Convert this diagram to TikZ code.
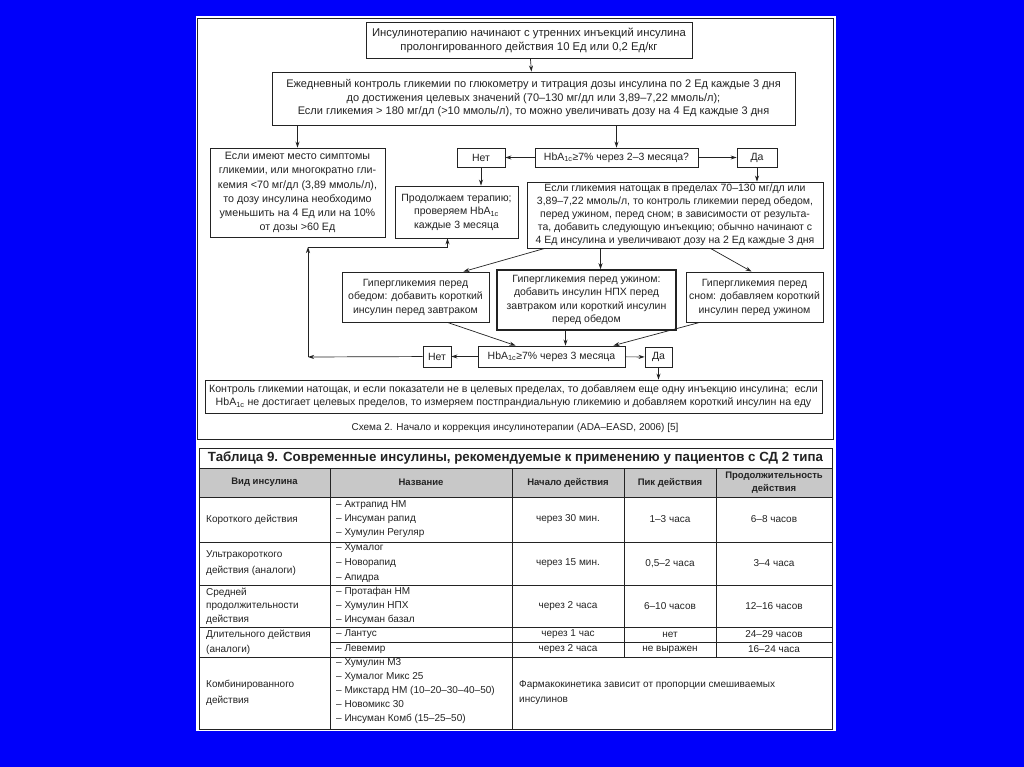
\documentclass[tikz,border=0pt]{standalone}
\usepackage{fontspec}
\setmainfont{Liberation Sans}
\usetikzlibrary{arrows.meta, positioning, calc}
\definecolor{slideblue}{RGB}{0,0,250}
\definecolor{inkgray}{RGB}{35,35,35}
\definecolor{headgray}{RGB}{200,200,200}
\newcommand{\hbsub}{HbA\textsubscript{1c}}

\begin{document}
\begin{tikzpicture}[x=1pt, y=-1pt,
  flowbox/.style={draw=inkgray, line width=0.9pt, align=center, inner sep=2pt, text=inkgray, font=\fontsize{10.5}{13.5}\selectfont},
  tagbox/.style={flowbox, minimum height=19pt},
  arrow/.style={-{Stealth[length=6pt,width=4pt]}, line width=0.7pt, draw=inkgray},
  cell/.style={inner sep=0pt, align=left, text=inkgray, font=\fontsize{10}{14}\selectfont},
  headcell/.style={inner sep=0pt, align=center, text=inkgray, font=\fontsize{9.5}{13}\selectfont\bfseries},
  rule/.style={draw=inkgray, line width=0.8pt},
]
  % slide background and sheet
  \fill[slideblue] (0,0) rectangle (1024,767);
  \fill[white] (196,16) rectangle (836,731);
  \useasboundingbox (0,0) rectangle (1024,767);
  \draw[rule] (197,18) rectangle (833,439);

  % scheme
  \node[flowbox, minimum width=326pt, minimum height=36pt, font=\fontsize{11.3}{14}\selectfont] (start) at (529,40)
    {Инсулинотерапию начинают с утренних инъекций инсулина\\пролонгированного действия 10 Ед или 0,2 Ед/кг};
  \node[flowbox, minimum width=523pt, minimum height=53pt, font=\fontsize{11}{13.5}\selectfont] (titr) at (533.5,98.5)
    {Ежедневный контроль гликемии по глюкометру и титрация дозы инсулина по 2 Ед каждые 3 дня\\
     до достижения целевых значений (70--130 мг/дл или 3,89--7,22 ммоль/л);\\
     Если гликемия > 180 мг/дл (>10 ммоль/л), то можно увеличивать дозу на 4 Ед каждые 3 дня};
  \node[flowbox, minimum width=175pt, minimum height=89pt, font=\fontsize{10.7}{14.2}\selectfont] (hypo) at (297.5,192.5)
    {Если имеют место симптомы\\гликемии, или многократно гли-\\кемия <70 мг/дл (3,89 ммоль/л),\\
     то дозу инсулина необходимо\\уменьшить на 4 Ед или на 10\%\\от дозы >60 Ед};
  \node[tagbox, minimum width=48pt] (no1) at (481,157.5) {Нет};
  \node[tagbox, minimum width=163pt] (hba1) at (616.5,157.5) {\hbsub≥7\% через 2--3 месяца?};
  \node[tagbox, minimum width=40pt] (yes1) at (757,157.5) {Да};
  \node[flowbox, minimum width=123pt, minimum height=52pt] (cont) at (456.5,212)
    {Продолжаем терапию;\\проверяем \hbsub\\каждые 3 месяца};
  \node[flowbox, minimum width=296pt, minimum height=66pt, font=\fontsize{10.5}{13}\selectfont] (fast) at (675,215)
    {Если гликемия натощак в пределах 70--130 мг/дл или\\
     3,89--7,22 ммоль/л, то контроль гликемии перед обедом,\\
     перед ужином, перед сном; в зависимости от результа-\\
     та, добавить следующую инъекцию; обычно начинают с\\
     4 Ед инсулина и увеличивают дозу на 2 Ед каждые 3 дня};
  \node[flowbox, minimum width=147pt, minimum height=50pt] (lunch) at (415.5,297)
    {Гипергликемия перед\\обедом: добавить короткий\\инсулин перед завтраком};
  \node[flowbox, line width=1.5pt, minimum width=179pt, minimum height=60pt] (dinner) at (586.5,300)
    {Гипергликемия перед ужином:\\добавить инсулин НПХ перед\\завтраком или короткий инсулин\\перед обедом};
  \node[flowbox, minimum width=137pt, minimum height=50pt] (night) at (754.5,297)
    {Гипергликемия перед\\сном: добавляем короткий\\инсулин перед ужином};
  \node[tagbox, minimum width=147pt, minimum height=21pt] (hba2) at (551.5,356.5) {\hbsub≥7\% через 3 месяца};
  \node[tagbox, minimum width=28pt, minimum height=21pt] (no2) at (437,356.5) {Нет};
  \node[tagbox, minimum width=27pt, minimum height=20pt] (yes2) at (658.5,357) {Да};
  \node[flowbox, minimum width=617pt, minimum height=33pt, font=\fontsize{10.6}{13}\selectfont] (final) at (513.5,396.5)
    {Контроль гликемии натощак, и если показатели не в целевых пределах, то добавляем еще одну инъекцию инсулина;\ \ если\\
     \hbsub\ не достигает целевых пределов, то измеряем постпрандиальную гликемию и добавляем короткий инсулин на еду};
  \node[text=inkgray, font=\fontsize{10}{12}\selectfont] (caption) at (515,428)
    {Схема 2. Начало и коррекция инсулинотерапии (ADA--EASD, 2006) [5]};

  \coordinate (midin) at ($(dinner.north)+(14,0)$);
  \coordinate (midout) at ($(hba2.north)+(14,0)$);
  \coordinate (turn) at (308,357);
  \coordinate (back) at (308,247);

  \draw[arrow] (start) -- (titr);
  \draw[arrow] (titr.south -| hypo.north) -- (hypo);
  \draw[arrow] (titr.south -| hba1.north) -- (hba1);
  \draw[arrow] (hba1) -- (no1);
  \draw[arrow] (hba1) -- (yes1);
  \draw[arrow] (no1) -- (cont.north -| no1);
  \draw[arrow] (yes1) -- (fast.north -| yes1);
  \draw[arrow] ($(fast.south west)+(18,0)$) -- ($(lunch.north east)+(-26,0)$);
  \draw[arrow] (midin |- fast.south) -- (midin);
  \draw[arrow] ($(fast.south west)+(184,0)$) -- ($(night.north)+(-3,0)$);
  \draw[arrow] ($(lunch.south)+(32,0)$) -- ($(hba2.north west)+(38,0)$);
  \draw[arrow] (midout |- dinner.south) -- (midout);
  \draw[arrow] ($(night.south west)+(14,0)$) -- ($(hba2.north east)+(-12,0)$);
  \draw[arrow] (hba2) -- (no2);
  \draw[arrow] (hba2) -- (yes2);
  \draw[arrow] (no2) -- (turn);
  \draw[arrow] (turn) -- (back);
  \draw[arrow] (back) -| ($(cont.south)+(-9,0)$);
  \draw[arrow] (yes2) -- (final.north -| yes2);

  % table
  \fill[headgray] (199,468) rectangle (832,497);
  \draw[rule] (199,448) rectangle (832,729);
  \foreach \ry in {468,497,542,585,627,657}
    \draw[rule] (199,\ry) -- (832,\ry);
  \draw[rule] (330,642) -- (832,642);
  \foreach \cx in {330,512}
    \draw[rule] (\cx,468) -- (\cx,729);
  \foreach \cx in {624,716}
    \draw[rule] (\cx,468) -- (\cx,657);

  \node[text=inkgray, font=\fontsize{13.3}{15}\selectfont\bfseries] (ttitle) at (515.5,458)
    {Таблица 9. Современные инсулины, рекомендуемые к применению у пациентов с СД 2 типа};

  \node[headcell] (hkind) at (264.5,482.5) {Вид инсулина};
  \node[headcell] (hname) at (421,482.5) {Название};
  \node[headcell] (honset) at (568,482.5) {Начало действия};
  \node[headcell] (hpeak) at (670,482.5) {Пик действия};
  \node[headcell] (hlast) at (774,482.5) {Продолжительность\\действия};

  \node[cell, anchor=west] (kshort) at (206,519.5) {Короткого действия};
  \node[cell, anchor=west] (nshort) at (336,519.5) {-- Актрапид НМ\\-- Инсуман рапид\\-- Хумулин Регуляр};
  \node[cell] (oshort) at (568,519.5) {через 30 мин.};
  \node[cell] (pshort) at (670,519.5) {1--3 часа};
  \node[cell] (lshort) at (774,519.5) {6--8 часов};

  \node[cell, anchor=west, font=\fontsize{10}{16}\selectfont] (kultra) at (206,563.5) {Ультракороткого\\действия (аналоги)};
  \node[cell, anchor=west, font=\fontsize{10}{15}\selectfont] (nultra) at (336,563.5) {-- Хумалог\\-- Новорапид\\-- Апидра};
  \node[cell] (oultra) at (568,563.5) {через 15 мин.};
  \node[cell] (pultra) at (670,563.5) {0,5--2 часа};
  \node[cell] (lultra) at (774,563.5) {3--4 часа};

  \node[cell, anchor=west, font=\fontsize{10}{13.5}\selectfont] (kmid) at (206,606) {Средней\\продолжительности\\действия};
  \node[cell, anchor=west] (nmid) at (336,606) {-- Протафан НМ\\-- Хумулин НПХ\\-- Инсуман базал};
  \node[cell] (omid) at (568,606) {через 2 часа};
  \node[cell] (pmid) at (670,606) {6--10 часов};
  \node[cell] (lmid) at (774,606) {12--16 часов};

  \node[cell, anchor=west, font=\fontsize{10}{15}\selectfont] (klong) at (206,642) {Длительного действия\\(аналоги)};
  \node[cell, anchor=west] (nlantus) at (336,634.5) {-- Лантус};
  \node[cell] (olantus) at (568,634.5) {через 1 час};
  \node[cell] (plantus) at (670,634.5) {нет};
  \node[cell] (llantus) at (774,634.5) {24--29 часов};
  \node[cell, anchor=west] (nlevemir) at (336,649.5) {-- Левемир};
  \node[cell] (olevemir) at (568,649.5) {через 2 часа};
  \node[cell] (plevemir) at (670,649.5) {не выражен};
  \node[cell] (llevemir) at (774,649.5) {16--24 часа};

  \node[cell, anchor=west, font=\fontsize{10}{16}\selectfont] (kmix) at (206,693) {Комбинированного\\действия};
  \node[cell, anchor=west] (nmix) at (336,691) {-- Хумулин М3\\-- Хумалог Микс 25\\-- Микстард НМ (10--20--30--40--50)\\-- Новомикс 30\\-- Инсуман Комб (15--25--50)};
  \node[cell, anchor=west, font=\fontsize{10}{15}\selectfont] (omix) at (519,693) {Фармакокинетика зависит от пропорции смешиваемых\\инсулинов};
\end{tikzpicture}
\end{document}
